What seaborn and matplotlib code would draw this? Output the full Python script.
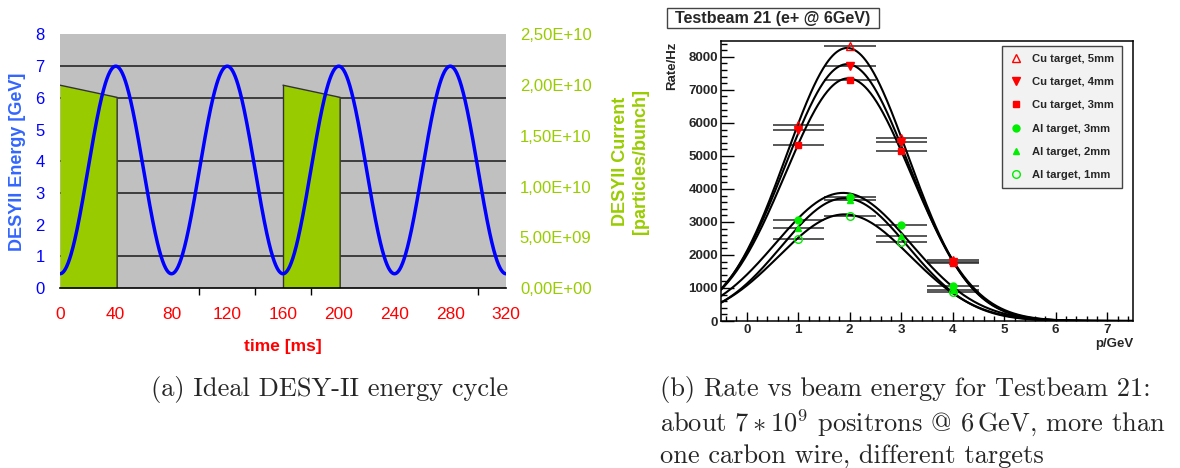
import numpy as np
import pandas as pd
import matplotlib
matplotlib.use("Agg")
import matplotlib.pyplot as plt
import matplotlib.transforms as mtransforms
from matplotlib.patches import Rectangle
import seaborn as sns

# ---- (a) DESY-II cycle ----
time_ticks = [0, 40, 80, 120, 160, 200, 240, 280, 320]
tick_marks_ms = [40, 100, 140, 180, 200, 240, 280, 300]
energy_ticks = [0, 1, 2, 3, 4, 5, 6, 7, 8]
grid_levels = [1, 3, 4, 6, 7]
current_ticks = [0, 5e9, 1e10, 1.5e10, 2e10, 2.5e10]
current_tick_marks = [0, 5e9]
energy_min = 0.45      # GeV at injection
energy_max = 7.0       # GeV at top of ramp
cycle_period = 80      # ms (12.5 Hz)
fill_start = [0, 160]  # ms
fill_end = [41, 201]
current_start = 2.0e10
current_end = 1.88e10

# ---- (b) Testbeam 21 ----
beam_energy = [1, 2, 3, 4]
target_names = ["Cu target, 5mm", "Cu target, 4mm", "Cu target, 3mm",
                "Al target, 3mm", "Al target, 2mm", "Al target, 1mm"]
rate_cu5 = [5940, 8330, 5530, 1860]
rate_cu4 = [5780, 7710, 5410, 1800]
rate_cu3 = [5340, 7290, 5150, 1760]
rate_al3 = [3060, 3760, 2900, 1050]
rate_al2 = [2830, 3680, 2570, 950]
rate_al1 = [2480, 3190, 2380, 880]
# gaussian fit results (amplitude, mean, sigma)
fit_amp = [8270, 7780, 7350, 3880, 3720, 3230]
fit_mean = [1.95, 1.95, 1.97, 1.87, 1.90, 1.90]
fit_sigma = [1.18, 1.20, 1.22, 1.31, 1.23, 1.28]

sns.set_style("white")
plt.rcParams["font.family"] = ["Liberation Sans", "DejaVu Sans"]
plt.rcParams["mathtext.fontset"] = "cm"

W, H = 1180, 468
fig = plt.figure(figsize=(W / 100, H / 100), dpi=100)

def fx(px):
    return px / W

def fy(py):
    return 1 - py / H

# ================= left panel =================
ax = fig.add_axes([fx(60), fy(288), fx(506) - fx(60), fy(34.5) - fy(288)])
ax2 = ax.twinx()
ax.set_zorder(2)
ax2.set_zorder(1)
ax.patch.set_visible(False)
ax2.patch.set_visible(True)
ax2.set_facecolor("#c0c0c0")

ax.set_xlim(0, 320)
ax.set_ylim(0, 8)
ax2.set_ylim(0, 2.5e10)

# grid lines (energy levels) drawn behind the current fill
gtrans = mtransforms.blended_transform_factory(ax2.transAxes, ax.transData)
for lv in grid_levels:
    ax2.plot([0, 1], [lv, lv], transform=gtrans, color="#1a1a1a", lw=1.1, zorder=1)

for s, e in zip(fill_start, fill_end):
    ax2.fill_between([s, e], [current_start, current_end], 0,
                     color="#99cc00", lw=0, zorder=2)
    ax2.plot([s, e, e], [current_start, current_end, 0], color="#333333", lw=1, zorder=3)
    if s > 0:
        ax2.plot([s, s], [0, current_start], color="#333333", lw=1, zorder=3)

t = np.linspace(0, 320, 1200)
energy = energy_min + (energy_max - energy_min) * 0.5 * (1 - np.cos(2 * np.pi * t / cycle_period))
sns.lineplot(x=t, y=energy, ax=ax, color="#0000ff", lw=2.5)

for a in (ax, ax2):
    for sp in a.spines.values():
        sp.set_visible(False)
ax.spines["bottom"].set_visible(True)
ax.spines["bottom"].set_color("black")
ax.spines["bottom"].set_linewidth(1.2)

ax.set_xticks(time_ticks)
ax.set_xticks(tick_marks_ms, minor=True)
ax.set_yticks(energy_ticks)
ax.set_yticks([0] + grid_levels, minor=True)
ax.tick_params(axis="x", which="major", bottom=True, length=0, pad=14,
               labelsize=12.5, labelcolor="#ff0000")
ax.tick_params(axis="y", which="major", left=True, length=0, pad=11,
               labelsize=12, labelcolor="#0000ff")
ax.tick_params(which="minor", bottom=True, left=True, length=5, width=1,
               color="black", direction="out")

ax2.set_yticks(current_ticks)
ax2.set_yticklabels([f"{v:.2E}".replace(".", ",") for v in current_ticks])
ax2.set_yticks(current_tick_marks, minor=True)
ax2.tick_params(axis="y", which="major", right=True, length=0, pad=10,
                labelsize=12, labelcolor="#99cc00")
ax2.tick_params(axis="y", which="minor", right=True, length=8, width=1,
                color="black", direction="inout")
ax.set_xlabel("")
ax.set_ylabel("")

fig.text(fx(18), fy(161.5), "DESYII Energy [GeV]", rotation=90, ha="center",
         va="center", color="#3366ff", fontsize=13, fontweight="bold")
fig.text(fx(630.5), fy(161), "DESYII Current\n[particles/bunch]", rotation=90,
         ha="center", va="center", multialignment="center", color="#99cc00",
         fontsize=13, fontweight="bold")
fig.text(fx(283), fy(347), "time [ms]", ha="center", va="center",
         color="#ff0000", fontsize=12.5, fontweight="bold")

# ================= right panel =================
rax = fig.add_axes([fx(721), fy(321), fx(1133) - fx(721), fy(40.7) - fy(321)])
rax.set_facecolor("white")
rax.set_xlim(-0.5, 7.5)
rax.set_ylim(0, 8490)

rates = [rate_cu5, rate_cu4, rate_cu3, rate_al3, rate_al2, rate_al1]
colors = ["#ff0000"] * 3 + ["#00ee00"] * 3
markers = ["^", "v", "s", "o", "^", "o"]
msizes = [5.5, 5.5, 5, 5, 4, 5.5]
filled = [False, True, True, True, True, False]

px = np.linspace(-0.5, 7.5, 400)
fit_rows = []
for name, a, m, sg in zip(target_names, fit_amp, fit_mean, fit_sigma):
    fit_rows.append(pd.DataFrame({"p": px, "rate": a * np.exp(-0.5 * ((px - m) / sg) ** 2),
                                  "target": name}))
fit_df = pd.concat(fit_rows, ignore_index=True)

for name, r in zip(target_names, rates):
    rax.errorbar(beam_energy, r, xerr=0.5, fmt="none", ecolor="#2a2a2a",
                 elinewidth=1.1, capsize=0, zorder=2)

sns.lineplot(data=fit_df, x="p", y="rate", units="target", estimator=None,
             color="black", lw=1.5, ax=rax, legend=False, zorder=3)

handles = []
for name, r, c, mk, ms, f in zip(target_names, rates, colors, markers, msizes, filled):
    h, = rax.plot(beam_energy, r, ls="none", marker=mk, ms=ms, color=c,
                  mfc=c if f else "none", mec=c, mew=1, label=name, zorder=4)
    handles.append(h)

for sp in rax.spines.values():
    sp.set_color("black")
    sp.set_linewidth(1.1)

rax.set_xticks(range(0, 8))
rax.set_xticks(np.arange(-0.4, 7.5, 0.2), minor=True)
rax.set_yticks(range(0, 8001, 1000))
rax.set_yticks(range(0, 8490, 200), minor=True)
rax.tick_params(which="both", direction="in", left=True, bottom=True,
                top=False, right=False, color="black", labelsize=9.6)
rax.tick_params(axis="y", which="major", length=9.5, width=1, pad=2)
rax.tick_params(axis="y", which="minor", length=4.5, width=1)
rax.tick_params(axis="x", which="major", length=6.5, width=1, pad=2.5)
rax.tick_params(axis="x", which="minor", length=3.5, width=1)
for lbl in rax.get_xticklabels() + rax.get_yticklabels():
    lbl.set_fontweight("bold")
rax.set_xlabel("")
rax.set_ylabel("")

fig.text(fx(672), fy(41.7), "Rate/Hz", rotation=90, ha="center", va="top",
         fontsize=9.5, fontweight="bold")
fig.text(fx(1133), fy(343.5), "p/GeV", ha="right", va="center",
         fontsize=9.5, fontweight="bold")

fig.patches.append(Rectangle((fx(666.7), fy(28.3)), fx(879) - fx(666.7), fy(8.3) - fy(28.3),
                             transform=fig.transFigure, facecolor="white",
                             edgecolor="#444444", lw=1))
fig.text(fx(772.8), fy(18.3), "Testbeam 21 (e+ @ 6GeV)", ha="center", va="center",
         fontsize=11.6, fontweight="bold")

leg = rax.legend(handles=handles, loc="upper left", bbox_to_anchor=(fx(1002.3), fy(46)),
                 bbox_transform=fig.transFigure, borderaxespad=0, frameon=True,
                 fancybox=False, framealpha=1, facecolor="#f2f2f2", edgecolor="#444444",
                 prop={"size": 8.1, "weight": "bold"}, handlelength=1.0,
                 handletextpad=0.9, labelspacing=1.18, borderpad=0.7)
leg.get_frame().set_linewidth(1)

# ================= captions =================
cap_font = ["cmr10", "DejaVu Serif"]
fig.text(fx(330), fy(386), "(a) Ideal DESY-II energy cycle", ha="center",
         va="center_baseline", family=cap_font, fontsize=19)
cap_b = ["(b) Rate vs beam energy for Testbeam 21:",
         r"about $7*10^9$ positrons @ 6$\,$GeV, more than",
         "one carbon wire, different targets"]
for i, line in enumerate(cap_b):
    fig.text(fx(660), fy(386 + 33.5 * i), line, ha="left", va="center_baseline",
             family=cap_font, fontsize=19)

fig.savefig("out.png", dpi=100)
